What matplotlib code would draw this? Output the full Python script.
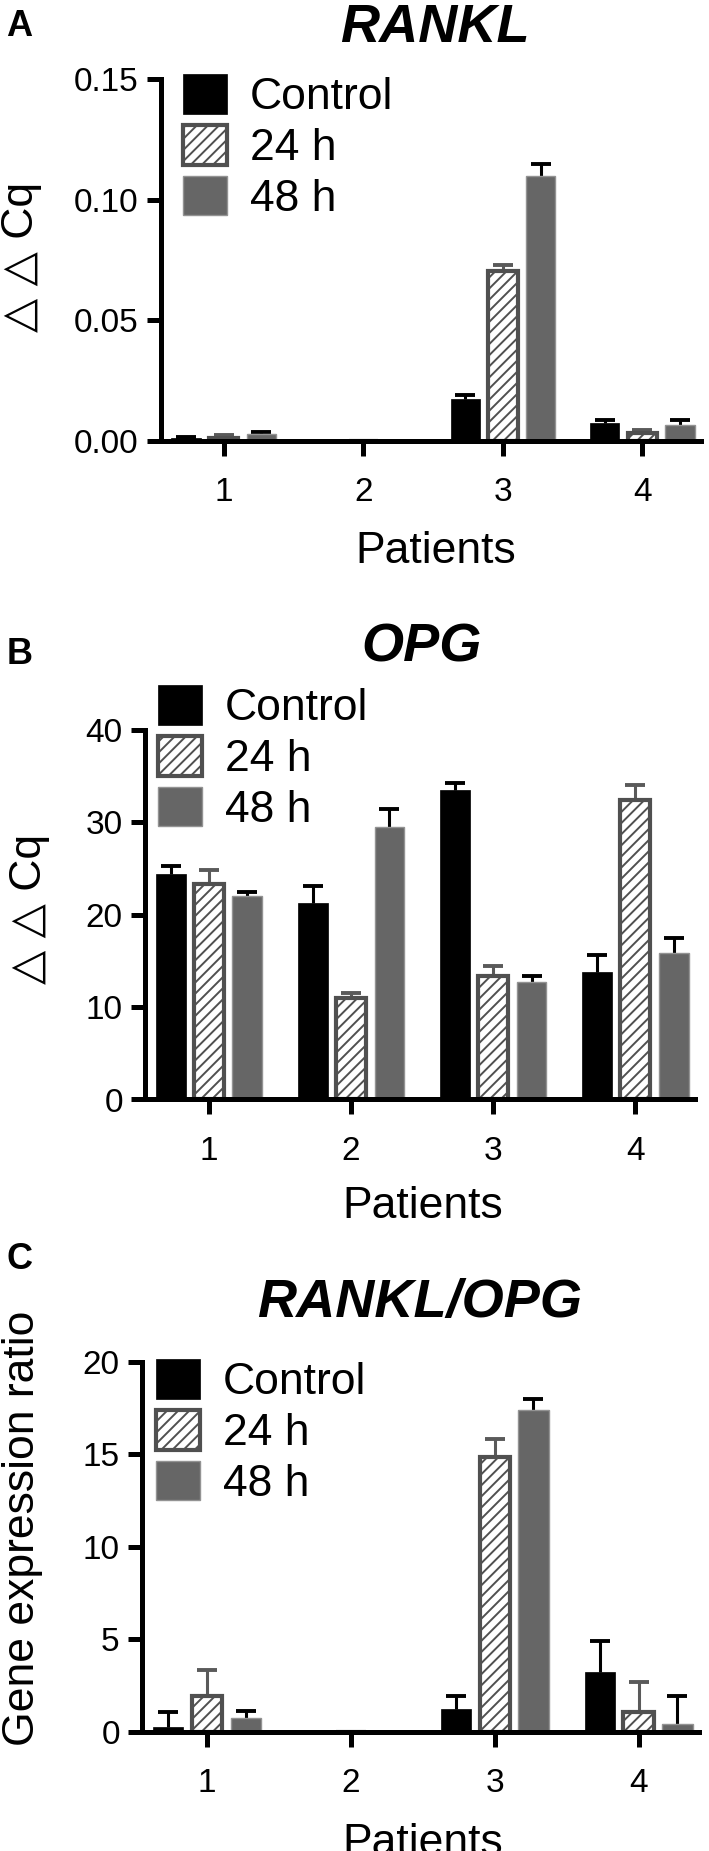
import numpy as np
import matplotlib.pyplot as plt

plt.rcParams['font.family'] = ['Liberation Sans', 'DejaVu Sans']
plt.rcParams['hatch.linewidth'] = 1.4

W, H = 709, 1851

patients = [1, 2, 3, 4]
groups = ['Control', '24 h', '48 h']

# A: RANKL (delta delta Cq)
rankl_ctrl = [0.0011, 0.0, 0.0175, 0.0076]
rankl_ctrl_err = [0.0006, 0.0, 0.0014, 0.0009]
rankl_24h = [0.0012, 0.0, 0.0704, 0.0035]
rankl_24h_err = [0.0011, 0.0, 0.0025, 0.0010]
rankl_48h = [0.0029, 0.0, 0.1096, 0.0068]
rankl_48h_err = [0.0008, 0.0, 0.0052, 0.0017]

# B: OPG (delta delta Cq)
opg_ctrl = [24.4, 21.3, 33.5, 13.8]
opg_ctrl_err = [0.9, 1.8, 0.8, 1.8]
opg_24h = [23.3, 11.0, 13.4, 32.4]
opg_24h_err = [1.5, 0.5, 1.0, 1.7]
opg_48h = [22.0, 29.5, 12.7, 15.9]
opg_48h_err = [0.5, 1.9, 0.7, 1.6]

# C: RANKL/OPG ratio
ratio_ctrl = [0.27, 0.0, 1.24, 3.24]
ratio_ctrl_err = [0.81, 0.0, 0.71, 1.64]
ratio_24h = [1.93, 0.0, 14.84, 1.05]
ratio_24h_err = [1.40, 0.0, 0.96, 1.63]
ratio_48h = [0.72, 0.0, 17.39, 0.42]
ratio_48h_err = [0.42, 0.0, 0.61, 1.50]


def fx(px):
    return px / W


def fy(px):
    return 1 - px / H


def draw_panel(ax, ctrl, ctrl_err, h24, h24_err, h48, h48_err, ymax, ystep, fmt):
    x = np.array(patients, dtype=float)
    series = [
        (ctrl, ctrl_err, -0.27, dict(color='black', edgecolor='black', linewidth=0.5), 'black'),
        (h24, h24_err, 0.0, dict(color='white', edgecolor='#505050', hatch='///', linewidth=3.0), '#5a5a5a'),
        (h48, h48_err, 0.27, dict(color='#666666', edgecolor='#939393', linewidth=1.0), 'black'),
    ]
    for (vals, errs, off, style, ecol), lab in zip(series, groups):
        vals = np.array(vals)
        errs = np.array(errs)
        # bars sit below the axis line (spines zorder 2.5)
        ax.bar(x + off, vals, width=0.21, label=lab, zorder=2, **style)
        m = errs > 0
        eb = ax.errorbar(x[m] + off, vals[m], yerr=[np.zeros(m.sum()), errs[m]], fmt='none',
                         ecolor=ecol, elinewidth=2.2, capsize=7, capthick=2.8, zorder=1.5)
        eb[1][0].set_visible(False)

    ax.set_xlim(0.55, 4.42)
    ax.set_ylim(0, ymax)
    ax.set_xticks(patients)
    ax.set_yticks(np.arange(0, ymax + ystep / 2, ystep))
    ax.yaxis.set_major_formatter(plt.FormatStrFormatter(fmt))
    for s in ['top', 'right']:
        ax.spines[s].set_visible(False)
    for s in ['left', 'bottom']:
        ax.spines[s].set_linewidth(3.6)
        ax.spines[s].set_capstyle('projecting')
    ax.tick_params(axis='y', width=3.6, length=10, labelsize=24, pad=6)
    ax.tick_params(axis='x', width=3.6, length=11, labelsize=24, pad=15)


fig = plt.figure(figsize=(W / 100, H / 100), dpi=100)

axA = fig.add_axes([fx(161), fy(441), fx(701) - fx(161), fy(79) - fy(441)])
draw_panel(axA, rankl_ctrl, rankl_ctrl_err, rankl_24h, rankl_24h_err, rankl_48h, rankl_48h_err,
           0.15, 0.05, '%.2f')
axB = fig.add_axes([fx(145), fy(1099.5), fx(695) - fx(145), fy(730) - fy(1099.5)])
draw_panel(axB, opg_ctrl, opg_ctrl_err, opg_24h, opg_24h_err, opg_48h, opg_48h_err,
           40, 10, '%d')
axC = fig.add_axes([fx(142), fy(1731.7), fx(699) - fx(142), fy(1361.7) - fy(1731.7)])
draw_panel(axC, ratio_ctrl, ratio_ctrl_err, ratio_24h, ratio_24h_err, ratio_48h, ratio_48h_err,
           20, 5, '%d')

# legends
for ax, (lx, ly) in [(axA, (183, 74)), (axB, (158, 685)), (axC, (156, 1359))]:
    ax.legend(loc='upper left', bbox_to_anchor=(fx(lx), fy(ly)), bbox_transform=fig.transFigure,
              frameon=False, fontsize=32, handlelength=1.0, handleheight=1.0,
              handletextpad=0.5, labelspacing=0.15, borderpad=0, borderaxespad=0)

# titles and panel letters
fig.text(fx(435), fy(42), 'RANKL', ha='center', va='baseline', fontsize=39,
         fontweight='bold', fontstyle='italic')
fig.text(fx(422), fy(662), 'OPG', ha='center', va='baseline', fontsize=39,
         fontweight='bold', fontstyle='italic')
fig.text(fx(420), fy(1317), 'RANKL/OPG', ha='center', va='baseline', fontsize=39,
         fontweight='bold', fontstyle='italic')
fig.text(fx(6), fy(36), 'A', ha='left', va='baseline', fontsize=26, fontweight='bold')
fig.text(fx(7), fy(664), 'B', ha='left', va='baseline', fontsize=26, fontweight='bold')
fig.text(fx(7), fy(1269), 'C', ha='left', va='baseline', fontsize=26, fontweight='bold')

# axis labels
fig.text(fx(436), fy(563), 'Patients', ha='center', va='baseline', fontsize=32)
fig.text(fx(423), fy(1218), 'Patients', ha='center', va='baseline', fontsize=32)
fig.text(fx(423), fy(1855), 'Patients', ha='center', va='baseline', fontsize=32)
fig.text(fx(22), fy(257), '△ △ Cq', ha='center', va='center', rotation=90, fontsize=32)
fig.text(fx(30), fy(909), '△ △ Cq', ha='center', va='center', rotation=90, fontsize=32)
fig.text(fx(23), fy(1528), 'Gene expression ratio', ha='center', va='center', rotation=90, fontsize=32)

fig.savefig('out.png', dpi=100)
